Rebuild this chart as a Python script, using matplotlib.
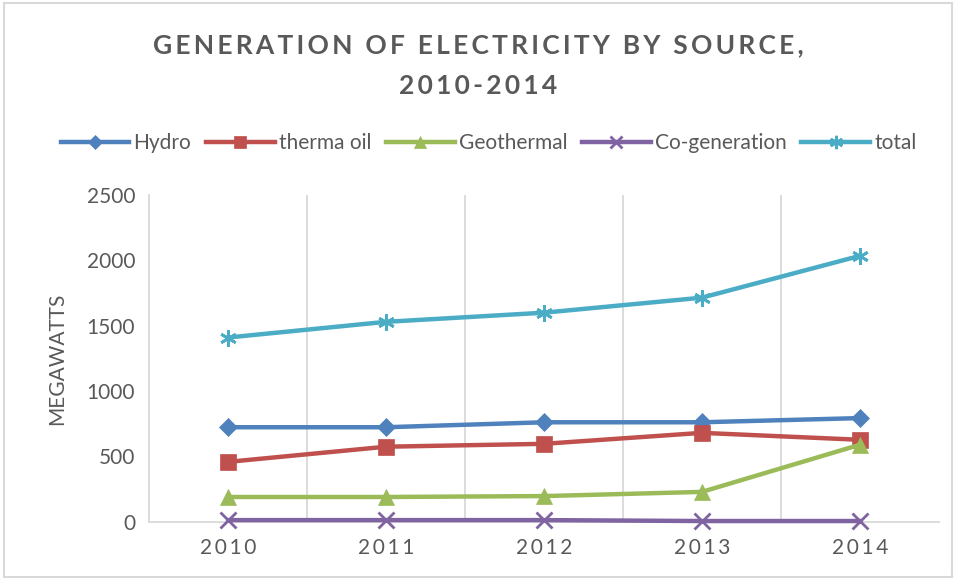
import matplotlib.pyplot as plt
from matplotlib.patches import Rectangle

# electricity generation by source, megawatts
years = ['2010', '2011', '2012', '2013', '2014']
hydro = [723, 723, 761, 761, 793]
therma_oil = [458, 574, 596, 680, 627]
geothermal = [189, 189, 196, 228, 589]
cogeneration = [12, 12, 12, 5, 5]
total = [1410, 1530, 1600, 1715, 2035]

series = [
    ('Hydro', hydro, '#4F81BD', 'D', 9),
    ('therma oil', therma_oil, '#C0504D', 's', 11),
    ('Geothermal', geothermal, '#9BBB59', '^', 11),
    ('Co-generation', cogeneration, '#8064A2', 'x', 11),
    ('total', total, '#4BACC6', (6, 2, 0), 12),
]

grey = '#595959'
plt.rcParams['font.family'] = ['Lato', 'DejaVu Sans']


def spaced(s, gap='\u200a'):
    return gap.join(s)


fig = plt.figure(figsize=(9.56, 5.79), dpi=100)
ax = fig.add_axes([0.156, 0.099, 0.826, 0.564])

x = list(range(len(years)))
for name, vals, color, marker, ms in series:
    ax.plot(x, vals, color=color, lw=3.2, marker=marker, markersize=ms,
            markeredgewidth=2 if marker in ('x', (6, 2, 0)) else 0.5,
            markeredgecolor=color, label=name, clip_on=False, zorder=3)

ax.set_xlim(-0.5, len(years) - 0.5)
ax.set_ylim(0, 2500)
ax.set_yticks(range(0, 2501, 500))
ax.set_xticks(x)
ax.set_xticklabels([spaced(y, '\u2009') for y in years])
for b in [0.5, 1.5, 2.5, 3.5]:
    ax.axvline(b, color='#d9d9d9', lw=1.3, zorder=0)

for s in ['top', 'right']:
    ax.spines[s].set_visible(False)
for s in ['left', 'bottom']:
    ax.spines[s].set_color('#d9d9d9')
    ax.spines[s].set_linewidth(1.3)
ax.tick_params(length=0, colors=grey, labelsize=15, pad=10)
ax.tick_params(axis='x', pad=12)
ax.set_ylabel('MEGAWATTS', color=grey, fontsize=15, labelpad=14)

fig.text(0.5, 0.922, spaced('GENERATION OF ELECTRICITY BY SOURCE,', '\u2009'),
         ha='center', va='center', fontsize=19, fontweight='bold', color=grey)
fig.text(0.5, 0.852, spaced('2010-2014', '\u2009'), ha='center', va='center',
         fontsize=19, fontweight='bold', color=grey)

fig.legend(loc='center', bbox_to_anchor=(0.511, 0.753), ncol=5, frameon=False,
           fontsize=15, handlelength=3.3, handletextpad=0.2, columnspacing=0.7,
           labelcolor=grey, markerscale=0.8)

# thin frame round the whole chart
fig.patches.append(Rectangle((0.004, 0.004), 0.992, 0.99, transform=fig.transFigure,
                             fill=False, edgecolor='#d9d9d9', lw=1.5))

fig.savefig('out.png', dpi=100, facecolor='white')
